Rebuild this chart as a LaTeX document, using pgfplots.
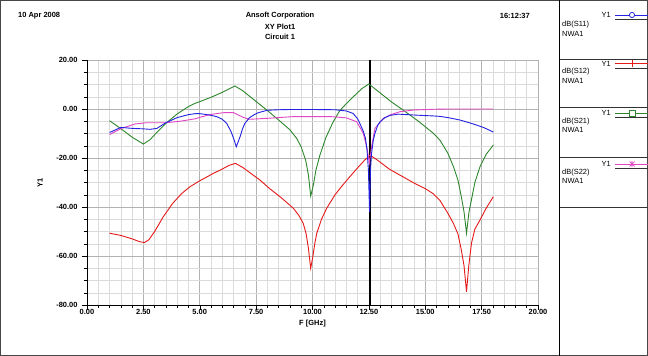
\documentclass[border=0pt]{standalone}
\usepackage{pgfplots}
\pgfplotsset{compat=1.18}
\usepackage{fontspec}
\setmainfont{Liberation Sans}
\definecolor{cSa}{RGB}{35,35,225}
\definecolor{cSb}{RGB}{230,25,25}
\definecolor{cSc}{RGB}{45,135,45}
\definecolor{cSd}{RGB}{225,70,195}
\newcommand{\hfont}{\fontsize{7.5}{9}\selectfont\bfseries}
\newcommand{\lfont}{\fontsize{7.5}{9}\selectfont}
\begin{document}
\begin{tikzpicture}
\useasboundingbox (0,0) rectangle (648bp,-356bp);
\fill[white] (0,0) rectangle (648bp,-356bp);
\begin{axis}[
  at={(87bp,-305bp)}, anchor=south west, scale only axis,
  width=451bp, height=245bp,
  xmin=0, xmax=20, ymin=-80, ymax=20,
  xtick={0,2.5,5,7.5,10,12.5,15,17.5,20},
  ytick={-80,-60,-40,-20,0,20},
  minor x tick num=4, minor y tick num=3,
  grid=both,
  major grid style={gray!60, line width=0.6bp},
  minor grid style={gray!28, line width=0.5bp},
  axis lines=left,
  axis line style={-, black, line width=0.8bp},
  tick align=outside,
  major tick length=4.5bp, minor tick length=3bp,
  tick style={black, line width=0.5bp},
  /pgf/number format/assume math mode=true,
  tick label style={font=\hfont},
  xticklabel style={yshift=3.5bp, /pgf/number format/.cd, fixed, fixed zerofill, precision=2},
  yticklabel style={xshift=-1.5bp, /pgf/number format/.cd, fixed, fixed zerofill, precision=2},
  xlabel={F [GHz]}, ylabel={Y1},
  label style={font=\hfont},
  xlabel style={at={(axis description cs:0.5,0)}, anchor=center, yshift=-18.5bp},
  ylabel style={at={(axis description cs:-0.104,0.5)}, anchor=center},
  every axis plot/.append style={line width=0.9bp, mark=none},
  clip=true,
]
% marker line
\addplot[black, line width=2.6bp] coordinates {(12.55,20) (12.55,-80)};
% dB(S21)
\addplot[cSc] coordinates {
(1.0,-4.8) (1.5,-8) (2.0,-11.5) (2.5,-14.3) (2.8,-12.5) (3.1,-9.5) (3.53,-5.6)
(4.0,-2) (4.5,1.0) (4.79,2.3) (5.0,3.0) (5.5,4.8) (6.0,6.8) (6.3,8.2) (6.56,9.4)
(6.9,7.5) (7.4,3.8) (7.97,-0.4) (8.5,-4.5) (9.0,-8.5) (9.3,-12) (9.5,-15.5)
(9.7,-21) (9.82,-27) (9.92,-35.5) (10.04,-31) (10.15,-25) (10.33,-18.8) (10.6,-11.5)
(10.92,-5.2) (11.2,-0.8) (11.52,2.4) (11.9,5.8) (12.2,8.4) (12.5,10.2) (12.9,7.3)
(13.5,2.9) (14.03,-0.5) (14.7,-5) (15.36,-9.9) (15.65,-12.7) (16.0,-18) (16.25,-23.5)
(16.45,-29) (16.6,-35.8) (16.72,-42) (16.83,-50.7) (16.94,-42) (17.05,-37) (17.2,-30)
(17.43,-23.5) (17.7,-18.5) (18.02,-14.7)};
% dB(S12)
\addplot[cSb] coordinates {
(1.0,-50.7) (1.5,-51.6) (2.0,-53) (2.35,-54.2) (2.55,-54.5) (2.75,-53.3) (3.0,-50)
(3.38,-44) (3.8,-38.5) (4.2,-34.5) (4.57,-31.7) (5.0,-29.3) (5.6,-26.3) (6.0,-24.5)
(6.3,-23) (6.58,-22.2) (6.9,-23.8) (7.3,-26.5) (7.67,-29) (8.1,-32.5) (8.56,-35.8)
(8.9,-38.5) (9.15,-40.5) (9.4,-43.5) (9.59,-46.7) (9.72,-51) (9.82,-57) (9.92,-65)
(10.02,-60) (10.1,-55) (10.19,-50.7) (10.4,-45) (10.63,-40.5) (11.0,-35) (11.3,-31.5)
(11.66,-27.6) (12.0,-24) (12.3,-21) (12.55,-18.8) (12.9,-21) (13.4,-24.5) (13.88,-27)
(14.5,-30.2) (15.0,-32.5) (15.36,-34.6) (15.65,-37.3) (16.0,-42.5) (16.25,-46.7)
(16.45,-51) (16.6,-57.5) (16.72,-64) (16.83,-74.6) (16.93,-64) (17.05,-54.8) (17.2,-49)
(17.43,-45.3) (17.7,-40.5) (18.02,-35.8)};
% dB(S22)
\addplot[cSd] coordinates {
(1.0,-10.4) (1.54,-7.9) (2.13,-6.1) (2.65,-5.6) (3.5,-5.6) (4.12,-5.0) (4.8,-4.0)
(5.0,-3.4) (5.5,-2.2) (6.05,-1.5) (6.5,-1.5) (6.93,-3.4) (7.2,-4.2) (8.0,-3.8)
(9.15,-3.1) (10.8,-3.1) (11.5,-3.6) (11.96,-5.2) (12.25,-9.9) (12.42,-16) (12.52,-22)
(12.62,-15.4) (12.77,-7.9) (13.14,-3.8) (13.5,-2.2) (13.88,-1.1) (14.5,-0.4)
(15.4,-0.1) (16.0,0) (18.02,0)};
% dB(S11)
\addplot[cSa] coordinates {
(1.0,-9.6) (1.5,-7.5) (2.0,-7.9) (2.5,-8.1) (2.8,-8.3) (3.1,-7.9) (3.5,-5.6)
(4.0,-3.5) (4.5,-2.3) (4.8,-1.9) (5.0,-1.9) (5.4,-2.4) (5.75,-3.1) (6.0,-4.2)
(6.2,-5.9) (6.4,-9.5) (6.52,-12.5) (6.62,-15.4) (6.72,-13) (6.8,-11) (6.9,-8)
(7.0,-5.9) (7.2,-3.6) (7.4,-2.4) (7.6,-1.5) (8.0,-0.5) (8.5,-0.3) (9.0,-0.2)
(10.0,-0.2) (11.0,-0.3) (11.5,-0.8) (11.8,-1.8) (12.0,-4) (12.1,-5.9) (12.25,-9)
(12.35,-12) (12.42,-17) (12.48,-25) (12.53,-42) (12.57,-25) (12.62,-18) (12.7,-12.5)
(12.77,-9.9) (12.9,-6.5) (13.0,-5.2) (13.2,-3.6) (13.44,-2.6) (13.8,-2.1) (14.2,-2.3)
(14.8,-2.6) (15.3,-2.8) (15.65,-3.0) (16.0,-3.5) (16.54,-4.5) (17.13,-6.1)
(17.6,-7.6) (18.02,-9.4)};
\end{axis}
% header
\node[anchor=west, font=\hfont, inner sep=0] at (18bp,-16bp) {10 Apr 2008};
\node[anchor=east, font=\hfont, inner sep=0] at (530bp,-16bp) {16:12:37};
\node[anchor=center, font=\hfont, inner sep=0] at (280bp,-16bp) {Ansoft Corporation};
\node[anchor=center, font=\hfont, inner sep=0] at (280bp,-26.5bp) {XY Plot1};
\node[anchor=center, font=\hfont, inner sep=0] at (280bp,-37bp) {Circuit 1};
% frame
\draw[gray!55!black, line width=1bp] (0.5bp,-0.5bp) rectangle (647.5bp,-355.5bp);
\draw[black, line width=0.9bp] (559.5bp,0) -- (559.5bp,-356bp);
\foreach \yy in {59.5,107,157,207} \draw[black!80, line width=0.7bp] (559.5bp,-\yy bp) -- (648bp,-\yy bp);
% legend entries
\node[anchor=east, font=\lfont, inner sep=0] at (611bp,-15bp) {Y1};
\draw[cSa, line width=0.9bp] (615bp,-15bp) -- (648bp,-15bp);
\draw[cSa, line width=0.8bp, fill=white] (632bp,-15bp) circle (2.6bp);
\draw[black!80, line width=0.8bp] (615bp,-19.5bp) -- (648bp,-19.5bp);
\node[anchor=west, font=\lfont, inner sep=0] at (562bp,-25bp) {dB(S11)};
\node[anchor=west, font=\lfont, inner sep=0] at (562bp,-33.5bp) {NWA1};

\node[anchor=east, font=\lfont, inner sep=0] at (611bp,-63.5bp) {Y1};
\draw[cSb, line width=0.9bp] (615bp,-63.5bp) -- (648bp,-63.5bp);
\draw[cSb, line width=0.8bp] (632bp,-60bp) -- (632bp,-67bp);
\draw[black!80, line width=0.8bp] (615bp,-68bp) -- (648bp,-68bp);
\node[anchor=west, font=\lfont, inner sep=0] at (562bp,-72bp) {dB(S12)};
\node[anchor=west, font=\lfont, inner sep=0] at (562bp,-80.5bp) {NWA1};

\node[anchor=east, font=\lfont, inner sep=0] at (611bp,-113bp) {Y1};
\draw[cSc, line width=0.9bp] (615bp,-113bp) -- (648bp,-113bp);
\draw[cSc, line width=0.8bp, fill=white] (629bp,-116bp) rectangle (635bp,-110bp);
\draw[black!80, line width=0.8bp] (615bp,-117.5bp) -- (648bp,-117.5bp);
\node[anchor=west, font=\lfont, inner sep=0] at (562bp,-122bp) {dB(S21)};
\node[anchor=west, font=\lfont, inner sep=0] at (562bp,-130bp) {NWA1};

\node[anchor=east, font=\lfont, inner sep=0] at (611bp,-164bp) {Y1};
\draw[cSd, line width=0.9bp] (615bp,-164bp) -- (648bp,-164bp);
\draw[cSd, line width=0.7bp] (629.5bp,-161.5bp) -- (634.5bp,-166.5bp) (629.5bp,-166.5bp) -- (634.5bp,-161.5bp) (632bp,-161bp) -- (632bp,-167bp);
\draw[black!80, line width=0.8bp] (615bp,-168.5bp) -- (648bp,-168.5bp);
\node[anchor=west, font=\lfont, inner sep=0] at (562bp,-172.5bp) {dB(S22)};
\node[anchor=west, font=\lfont, inner sep=0] at (562bp,-180.5bp) {NWA1};
\end{tikzpicture}
\end{document}
